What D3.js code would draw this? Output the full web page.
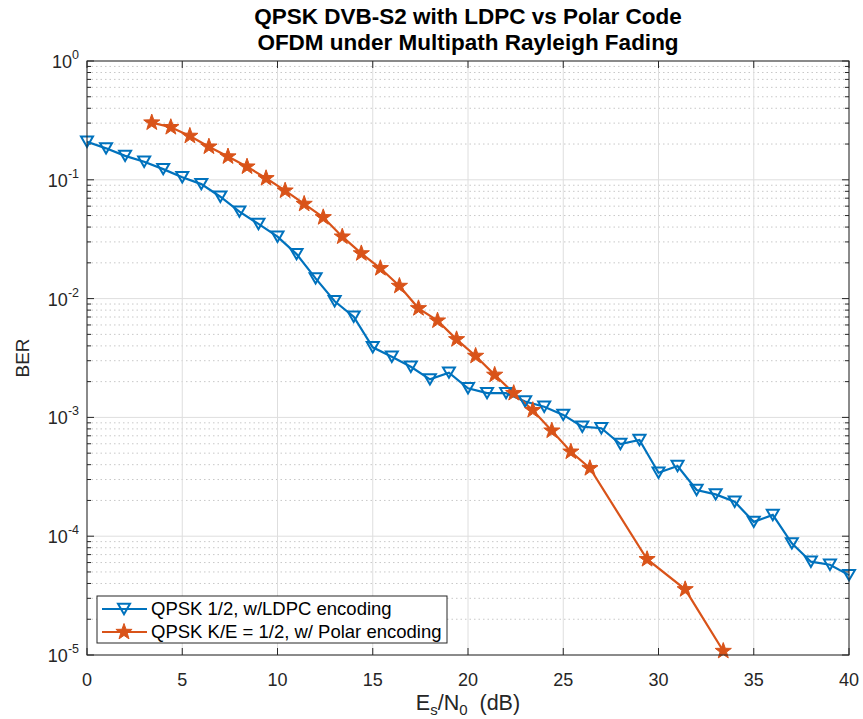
<!DOCTYPE html>
<html><head><meta charset="utf-8">
<script src="https://cdn.jsdelivr.net/npm/d3@7"></script>
<style>body{margin:0;background:#fff;} text{font-family:"Liberation Sans",Arial,Helvetica,sans-serif;}</style>
</head><body>
<svg id="c" width="863" height="719"></svg>
<script>
const titleLines = ["QPSK DVB-S2 with LDPC vs Polar Code", "OFDM under Multipath Rayleigh Fading"];
const seriesNames = ["QPSK 1/2, w/LDPC encoding", "QPSK K/E = 1/2, w/ Polar encoding"];
const ldpcX = d3.range(0, 41);
const ldpcBER = [0.209,0.184,0.159,0.142,0.123,0.105,0.092,0.072,0.054,0.0425,
  0.0332,0.0237,0.0148,0.0095,0.00704,0.00389,0.00324,0.00267,0.00209,0.00238,
  0.00176,0.0016,0.0016,0.00136,0.00123,0.00105,0.000835,0.00081,0.000597,0.000645,
  0.000342,0.00039,0.000245,0.000225,0.000195,0.000132,0.000151,0.000087,0.000061,0.0000575,0.000047];
const polarX = [3.4,4.4,5.4,6.4,7.4,8.4,9.4,10.4,11.4,12.4,13.4,14.4,15.4,16.4,17.4,18.4,19.4,20.4,21.4,22.4,23.4,24.4,25.4,26.4,29.4,31.4,33.4];
const polarBER = [0.303,0.277,0.234,0.19,0.157,0.129,0.103,0.081,0.0626,0.0483,0.0332,0.024,0.018,0.01277,0.00828,0.00652,0.00454,0.00329,0.00228,0.0016,0.00115,0.000773,0.000514,0.000373,0.000064,0.0000357,0.0000108];
const xTicks = [0,5,10,15,20,25,30,35,40];
const yExps = [0,-1,-2,-3,-4,-5];

const svg = d3.select("#c");
const L=87, R=849, T=61, B=655;
const x = d3.scaleLinear().domain([0,40]).range([L,R]);
const y = d3.scaleLog().domain([1e-5,1]).range([B,T]);
const blue="#0072BD", orange="#D95319";

const g = svg.append("g");
const minorVals=[];
yExps.slice(1).forEach(e=>{for(let m=2;m<=9;m++) minorVals.push(m*Math.pow(10,e));});
g.selectAll(".mg").data(minorVals).join("line")
  .attr("x1",L).attr("x2",R).attr("y1",d=>y(d)).attr("y2",d=>y(d))
  .attr("stroke","#c8c8c8").attr("stroke-width",1).attr("stroke-dasharray","1.5,3");
g.selectAll(".gx").data(xTicks).join("line")
  .attr("x1",d=>x(d)).attr("x2",d=>x(d)).attr("y1",T).attr("y2",B)
  .attr("stroke","#dedede").attr("stroke-width",1);
g.selectAll(".gy").data(yExps).join("line")
  .attr("x1",L).attr("x2",R).attr("y1",d=>y(Math.pow(10,d))).attr("y2",d=>y(Math.pow(10,d)))
  .attr("stroke","#dedede").attr("stroke-width",1);

const tk = svg.append("g").attr("stroke","#262626").attr("stroke-width",1);
xTicks.forEach(v=>{
  tk.append("line").attr("x1",x(v)).attr("x2",x(v)).attr("y1",B).attr("y2",B-7);
  tk.append("line").attr("x1",x(v)).attr("x2",x(v)).attr("y1",T).attr("y2",T+7);
});
yExps.forEach(e=>{const yy=y(Math.pow(10,e));
  tk.append("line").attr("x1",L).attr("x2",L+7).attr("y1",yy).attr("y2",yy);
  tk.append("line").attr("x1",R).attr("x2",R-7).attr("y1",yy).attr("y2",yy);
});
minorVals.forEach(v=>{const yy=y(v);
  tk.append("line").attr("x1",L).attr("x2",L+4).attr("y1",yy).attr("y2",yy);
  tk.append("line").attr("x1",R).attr("x2",R-4).attr("y1",yy).attr("y2",yy);
});

svg.selectAll(".xl").data(xTicks).join("text")
  .attr("x",d=>x(d)).attr("y",B+31).attr("text-anchor","middle")
  .attr("font-size",18).attr("fill","#262626").text(d=>d);
yExps.forEach(e=>{
  const t=svg.append("text").attr("x",L-8).attr("y",y(Math.pow(10,e))+7).attr("text-anchor","end")
    .attr("font-size",18).attr("fill","#262626");
  t.append("tspan").text("10");
  t.append("tspan").attr("dy",-9).attr("font-size",12.5).text(e);
});

const line = d3.line().x(d=>x(d[0])).y(d=>y(d[1]));
const ld = ldpcX.map((v,i)=>[v,ldpcBER[i]]);
const pd = polarX.map((v,i)=>[v,polarBER[i]]);
svg.append("path").datum(ld).attr("d",line).attr("fill","none").attr("stroke",blue).attr("stroke-width",2.2);
svg.append("path").datum(pd).attr("d",line).attr("fill","none").attr("stroke",orange).attr("stroke-width",2.2);

function triPath(s){const h=s*0.866; return `M${-s/2},${-h/2}L${s/2},${-h/2}L0,${h/2}Z`;}
function starPath(r){let p="";for(let i=0;i<10;i++){const rr=i%2?r*0.4:r;const a=-Math.PI/2+i*Math.PI/5;p+=(i?"L":"M")+(rr*Math.cos(a)).toFixed(2)+","+(rr*Math.sin(a)).toFixed(2);}return p+"Z";}

svg.selectAll(".mt").data(ld).join("path")
  .attr("transform",d=>`translate(${x(d[0])},${y(d[1])})`)
  .attr("d",triPath(12)).attr("fill","none").attr("stroke",blue).attr("stroke-width",2);
svg.selectAll(".ms").data(pd).join("path")
  .attr("transform",d=>`translate(${x(d[0])},${y(d[1])})`)
  .attr("d",starPath(8.5)).attr("fill",orange).attr("stroke",orange).attr("stroke-width",1);

svg.append("rect").attr("x",L).attr("y",T).attr("width",R-L).attr("height",B-T)
  .attr("fill","none").attr("stroke","#262626").attr("stroke-width",1);

titleLines.forEach((t,i)=>{
  svg.append("text").attr("x",(L+R)/2).attr("y",24+i*26).attr("text-anchor","middle")
    .attr("font-size",22.5).attr("font-weight","bold").attr("fill","#000").text(t);
});
const xl = svg.append("text").attr("x",(L+R)/2).attr("y",710).attr("text-anchor","middle")
  .attr("font-size",21.5).attr("fill","#262626");
xl.append("tspan").text("E");
xl.append("tspan").attr("dy",5).attr("font-size",15).text("s");
xl.append("tspan").attr("dy",-5).text("/N");
xl.append("tspan").attr("dy",5).attr("font-size",15).text("0");
xl.append("tspan").attr("dy",-5).text("\u00a0 (dB)");
svg.append("text").attr("transform",`translate(29,${(T+B)/2}) rotate(-90)`).attr("text-anchor","middle")
  .attr("font-size",19).attr("fill","#262626").text("BER");

const lg = svg.append("g");
lg.append("rect").attr("x",97).attr("y",596).attr("width",350).attr("height",47)
  .attr("fill","#fff").attr("stroke","#262626").attr("stroke-width",1);
[[blue,"t"],[orange,"s"]].forEach((c,i)=>{
  const yy=609+i*23;
  lg.append("line").attr("x1",102).attr("x2",147).attr("y1",yy).attr("y2",yy).attr("stroke",c[0]).attr("stroke-width",2.2);
  if(c[1]==="t") lg.append("path").attr("transform",`translate(124,${yy})`).attr("d",triPath(12)).attr("fill","none").attr("stroke",c[0]).attr("stroke-width",2);
  else lg.append("path").attr("transform",`translate(124,${yy})`).attr("d",starPath(8.5)).attr("fill",c[0]).attr("stroke",c[0]);
  lg.append("text").attr("x",151).attr("y",yy+6).attr("font-size",18.5).attr("fill","#000").text(seriesNames[i]);
});
</script>
</body></html>
